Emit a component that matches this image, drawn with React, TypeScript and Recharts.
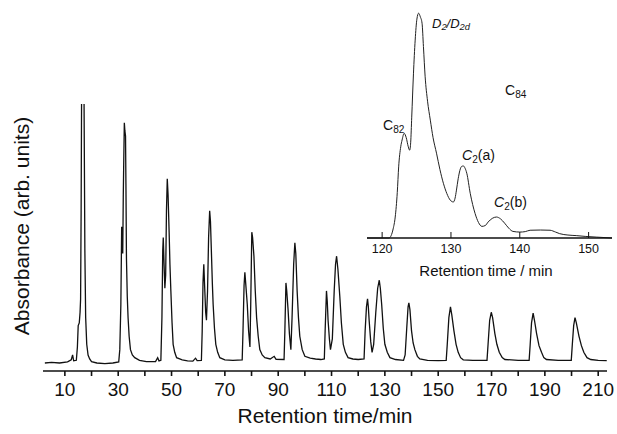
import React from 'react';
import { LineChart, Line, XAxis, YAxis } from 'recharts';

const FONT = '"Liberation Sans", Arial, Helvetica, sans-serif';
const INK = '#111';

// main chromatogram (recycling runs)
const mainTicks = [10, 20, 30, 40, 50, 60, 70, 80, 90, 100, 110, 120, 130, 140, 150, 160, 170, 180, 190, 200, 210];
const mainLabelled = [10, 30, 50, 70, 90, 110, 130, 150, 170, 190, 210];

const mainTime = [
  2.5, 5, 8, 11, 12.4, 12.9, 13.3, 14.3, 14.7, 15.0, 15.4, 15.7, 15.9, 16.1, 16.3, 16.9, 17.2, 17.5, 17.8, 18.2, 18.7, 19.3, 20, 22, 25, 28, 30.2,
  30.6, 31.0, 31.3, 31.5, 31.7, 31.9, 32.1, 32.3, 32.5, 32.75, 32.9, 33.1, 33.4, 33.7, 34.1, 34.6, 35.3, 36.2, 38, 40.6, 44, 44.8, 45.3,
  46.0, 46.4, 46.7, 46.9, 47.2, 47.5, 47.8, 48.1, 48.4, 48.7, 49.1, 49.4, 49.75, 50.2, 50.6, 51.2, 51.9, 54, 56, 58, 59, 59.6, 61.2,
  61.5, 61.8, 62.1, 62.4, 62.8, 63.1, 63.5, 63.9, 64.3, 64.6, 65, 65.3, 65.6, 66.1, 66.6, 67.3, 68.1, 70, 73, 76.5,
  76.8, 77.2, 77.5, 77.8, 78.4, 78.9, 79.4, 79.7, 80.1, 80.4, 80.9, 81.4, 81.9, 82.5, 83.1, 84, 85, 87, 88.5, 89.2, 92.2,
  92.5, 92.9, 93.2, 93.7, 94.2, 94.75, 95.2, 95.8, 96.25, 96.6, 97.1, 97.6, 98.1, 99, 100, 102, 104, 106, 107.3,
  107.6, 108.1, 108.4, 108.7, 109.2, 109.6, 110.3, 111.0, 111.5, 111.9, 112.4, 113.1, 113.7, 114.4, 115.2, 116.2, 118, 120, 122.2,
  122.6, 123.1, 123.5, 123.8, 124.1, 124.7, 125.2, 125.8, 126.6, 127.3, 127.9, 128.3, 128.8, 129.4, 130, 130.9, 131.9, 134, 137,
  137.6, 138.2, 138.7, 139, 139.4, 140, 140.6, 141.25, 142.2, 143.1, 146, 150, 153,
  153.4, 154, 154.6, 155.1, 155.9, 156.7, 157.5, 158.4, 159.4, 163, 168.3,
  168.7, 169.3, 169.9, 170.4, 171.25, 172, 172.9, 174, 175, 180, 184.1,
  184.5, 185, 185.6, 186.1, 186.9, 187.8, 188.75, 189.6, 190.6, 195, 199.9,
  200.3, 200.8, 201.3, 201.8, 202.8, 203.7, 204.6, 205.8, 207.2, 210, 213.2,
];
const mainAbs = [
  3.0, 3.2, 3.0, 3.4, 4.2, 6.0, 3.8, 4.0, 9, 17, 18, 22, 27, 60, 110, 112, 100, 45, 20, 10, 6, 4.5, 3.5, 3.0, 2.8, 3.0, 3.4,
  8, 25, 54, 46, 44, 65, 80, 93, 90, 88, 70, 42, 28, 20, 13, 8, 6, 5, 4, 3.5, 3.5, 5, 3.8,
  4, 20, 45, 50, 40, 31, 36, 60, 72, 66, 52, 40, 30, 18, 10, 7, 5, 4.2, 3.8, 3.7, 4.8, 3.9, 4,
  15, 33, 40, 32, 22, 19, 30, 50, 60, 56, 43, 33, 25, 16, 10, 7, 5, 4.2, 4, 4.2,
  15, 32, 37, 33, 25, 15, 9, 25, 52, 50, 43, 30, 20, 13, 8, 6, 5, 4.5, 5.5, 4.4, 4.3,
  15, 33, 30, 23, 14, 8, 20, 40, 48, 44, 30, 20, 13, 8, 5.5, 4.8, 4.5, 4.3, 4.5,
  15, 30, 26, 19, 12, 8, 12, 30, 40, 43, 38, 28, 18, 10, 7, 5, 4.5, 4.3, 4.5,
  15, 24, 27, 24, 19, 11, 7, 10, 22, 31, 34, 31, 25, 16, 10, 7, 5, 4.3, 4,
  6, 16, 24, 25.5, 23, 15, 10.5, 8, 5.5, 4.5, 4, 3.9, 4,
  10, 20, 24, 21, 15, 10, 7, 5, 4.2, 4, 4,
  10, 19, 22, 20, 14, 10, 7, 5, 4.3, 4, 4,
  10, 18, 21.7, 19, 14, 9.5, 7, 5, 4.3, 4, 4,
  10, 17, 20, 18, 13, 9.5, 7, 5, 4.3, 4, 3.9,
];

// inset: C84 isomer region
const insetTicks = [120, 130, 140, 150];
const insetTime = [
  117.8, 121.0, 121.3, 121.6, 121.9, 122.2, 122.4, 122.7, 122.9, 123.2, 123.5, 123.8, 124.0, 124.15, 124.3, 124.55, 124.8, 125.05, 125.3,
  125.55, 125.8, 126.0, 126.25, 126.6, 127.0, 127.4, 127.9, 128.4, 128.9, 129.4, 129.9, 130.35, 130.6, 130.8, 131.05, 131.3, 131.55,
  131.8, 132.05, 132.3, 132.8, 133.5, 134.0, 134.5, 135.0, 135.4, 136.0, 136.6, 137.2, 137.8, 138.4, 139.0, 140.0, 140.8, 141.5,
  143.0, 144.4, 145.2, 145.8, 147.0, 148.2, 149.5, 151.1, 153.4,
];
const insetAbs = [
  0, 0, 1, 4, 9.2, 20, 31.2, 40, 43, 45.9, 44, 40, 38.5, 42, 53, 72, 86.8, 96, 98.6,
  97, 94.2, 84, 70.7, 60, 51.7, 44, 37.2, 30, 24, 19.5, 16.6, 15.8, 17.5, 21, 26, 29.7, 31.4,
  31.6, 30.6, 28.4, 19.6, 10.8, 6.8, 5.1, 5.5, 7, 8.6, 9.2, 8.4, 6.5, 4.3, 2.9, 2.6, 2.8, 3.4,
  3.5, 3.4, 2.6, 1.9, 1.3, 1.05, 0.7, 0.4, 0,
];

const mainData = mainTime.map((t, i) => ({ t, a: mainAbs[i] }));
const insetData = insetTime.map((t, i) => ({ t, a: insetAbs[i] }));

const InsetTick = (props: any) => {
  const { x, y, payload } = props;
  return (
    <g>
      <line x1={x} x2={x} y1={y} y2={y - 6} stroke={INK} strokeWidth={1} />
      <text x={x} y={y + 15} textAnchor="middle" fontSize={12.5} fontFamily={FONT} fill={INK}>
        {payload.value}
      </text>
    </g>
  );
};

const abs = (left: number, top: number, extra: React.CSSProperties = {}): React.CSSProperties => ({
  position: 'absolute',
  left,
  top,
  fontFamily: FONT,
  color: INK,
  whiteSpace: 'nowrap',
  lineHeight: 1,
  ...extra,
});

const sub: React.CSSProperties = { fontSize: '0.72em', verticalAlign: '-0.25em' };

export default function App() {
  return (
    <div style={{ position: 'absolute', left: 0, top: 0, width: 617, height: 434, background: '#fff', overflow: 'hidden' }}>
      {/* main chromatogram */}
      <LineChart width={617} height={434} data={mainData} margin={{ top: 104, right: 10, left: 43, bottom: 0 }}>
        <XAxis
          dataKey="t"
          type="number"
          domain={[1.8, 213.3]}
          ticks={mainTicks}
          interval={0}
          allowDataOverflow
          tickFormatter={(v: number) => (mainLabelled.includes(v) ? String(v) : '')}
          height={63}
          tickSize={5}
          tickMargin={7}
          axisLine={{ stroke: INK, strokeWidth: 1.6 }}
          tickLine={{ stroke: INK, strokeWidth: 1.6 }}
          tick={{ fill: INK, fontSize: 19, fontFamily: FONT }}
        />
        <YAxis
          type="number"
          domain={[0, 100]}
          allowDataOverflow
          width={0}
          tick={false}
          tickLine={false}
          axisLine={{ stroke: INK, strokeWidth: 1.6 }}
        />
        <Line dataKey="a" type="linear" stroke={INK} strokeWidth={1.3} dot={false} isAnimationActive={false} />
      </LineChart>

      {/* inset */}
      <div style={{ position: 'absolute', left: 0, top: 0 }}>
        <LineChart width={617} height={290} data={insetData} margin={{ top: 10, right: 5, left: 367, bottom: 0 }}>
          <XAxis
            dataKey="t"
            type="number"
            domain={[117.8, 153.4]}
            ticks={insetTicks}
            interval={0}
            height={52}
            tickSize={0}
            tickMargin={0}
            tickLine={false}
            tick={<InsetTick />}
            axisLine={{ stroke: INK, strokeWidth: 1.3 }}
          />
          <YAxis hide type="number" domain={[0, 100]} />
          <Line dataKey="a" type="monotone" stroke="#222" strokeWidth={1} dot={false} isAnimationActive={false} />
        </LineChart>
      </div>

      {/* axis titles */}
      <div style={abs(325, 415, { fontSize: 21, transform: 'translate(-50%, -50%)' })}>Retention time/min</div>
      <div style={abs(21, 226, { fontSize: 21, transform: 'translate(-50%, -50%) rotate(-90deg)' })}>Absorbance (arb. units)</div>
      <div style={abs(486, 270, { fontSize: 15, transform: 'translate(-50%, -50%)' })}>Retention time / min</div>

      {/* inset peak labels */}
      <div style={abs(432, 17, { fontSize: 13, fontStyle: 'italic' })}>
        D<span style={sub}>2</span>/D<span style={sub}>2d</span>
      </div>
      <div style={abs(505, 83, { fontSize: 14 })}>
        C<span style={sub}>84</span>
      </div>
      <div style={abs(383, 118, { fontSize: 14 })}>
        C<span style={sub}>82</span>
      </div>
      <div style={abs(462, 148, { fontSize: 14 })}>
        <i>C</i><span style={sub}>2</span>(a)
      </div>
      <div style={abs(494, 195, { fontSize: 14 })}>
        <i>C</i><span style={sub}>2</span>(b)
      </div>
    </div>
  );
}
